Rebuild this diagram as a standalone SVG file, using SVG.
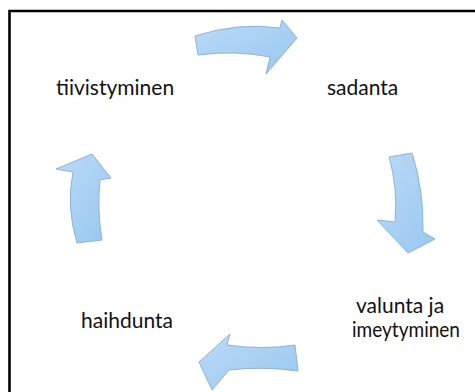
<svg xmlns="http://www.w3.org/2000/svg" width="475" height="392" viewBox="0 0 475 392">
<style>
.lbl{font-family:Lato,"Open Sans",sans-serif;font-size:21px;fill:#111}
.arr{fill:url(#g);stroke:#8fb3d6;stroke-width:1;stroke-linejoin:round}
</style>
<defs>
<linearGradient id="g" x1="0" y1="0" x2="1" y2="1">
<stop offset="0" stop-color="#bcdaf6"/>
<stop offset="1" stop-color="#98c7f0"/>
</linearGradient>
</defs>
<rect width="475" height="392" fill="#fff"/>
<path d="M9.5,392 V11 H475" fill="none" stroke="#000" stroke-width="2.6"/>
<g id="connectors">
<path class="arr" d="M195,36 Q238,22 280,28 L282,20 L297,38 L266,74 L270,57 Q235,50 198,55 Z"/>
<path class="arr" d="M389,157 L412,153 Q424,190 423,232 L435,239 L408,253 L377,220 L395,222 Q398,188 389,157 Z"/>
<path class="arr" d="M295,345 L298,371 Q262,366 229,370 L212,390 L199,362 L230,334 L227,345 Q262,350 295,345 Z"/>
<path class="arr" d="M77,243 L102,240 Q97,210 100,180 L111,178 L92,154 L56,169 L73,172 Q66,207 77,243 Z"/>
</g>
<g id="tiivistyminen"><text class="lbl" x="56" y="95">tiivistyminen</text></g>
<g id="sadanta"><text class="lbl" x="327" y="95">sadanta</text></g>
<g id="haihdunta"><text class="lbl" x="81" y="328">haihdunta</text></g>
<g id="valunta"><text class="lbl" x="356" y="313">valunta ja</text><text class="lbl" x="352" y="337" textLength="108" lengthAdjust="spacingAndGlyphs">imeytyminen</text></g>
</svg>
